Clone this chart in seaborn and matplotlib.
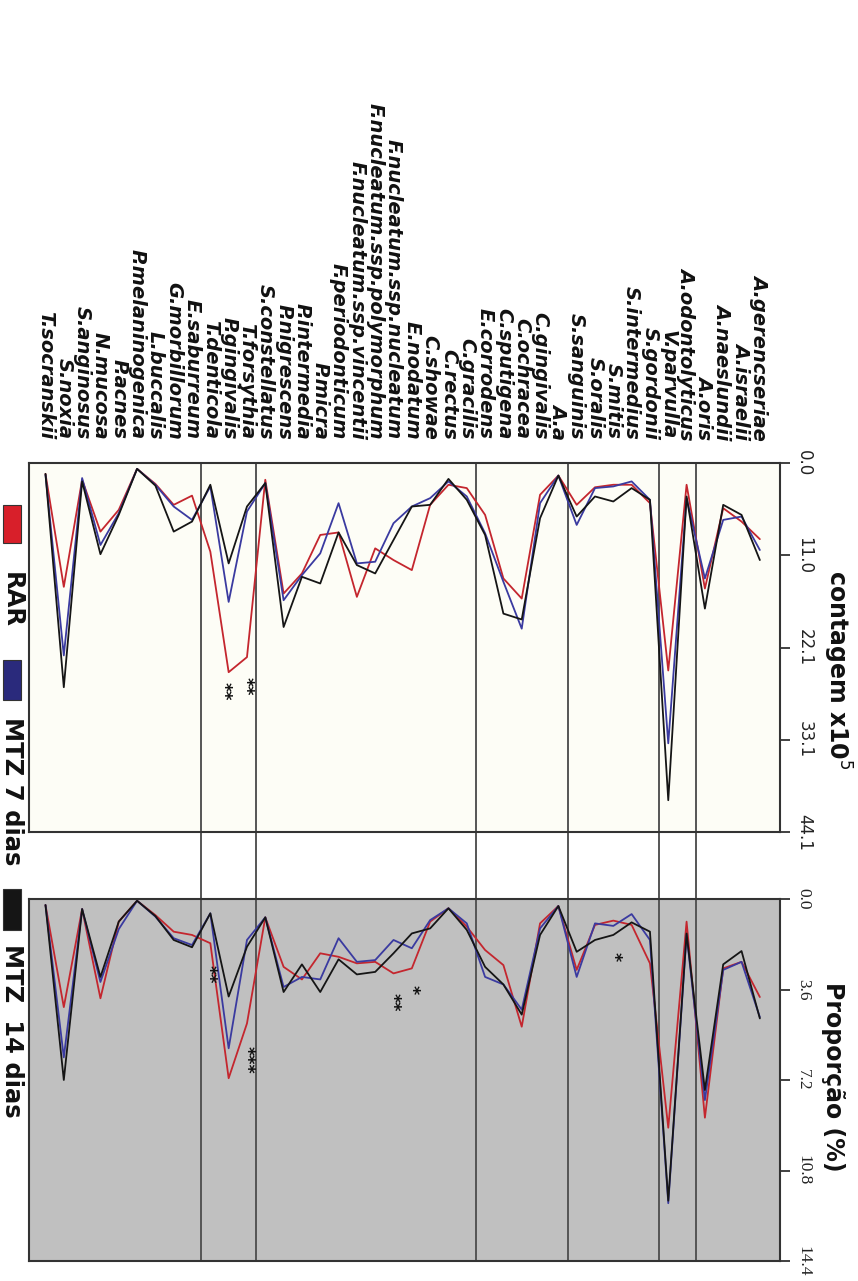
import pandas as pd
import seaborn as sns
import matplotlib.pyplot as plt
from matplotlib.patches import Rectangle

# species, left to right as they appear (rotated figure)
species = ["T.socranskii", "S.noxia", "S.anginosus", "N.mucosa", "P.acnes",
           "P.melaninogenica", "L.buccalis", "G.morbillorum", "E.saburreum",
           "T.denticola", "P.gingivalis", "T.forsythia", "S.constellatus",
           "P.nigrescens", "P.intermedia", "P.micra", "F.periodonticum",
           "F.nucleatum.ssp.vincentii", "F.nucleatum.ssp.polymorphum",
           "F.nucleatum.ssp.nucleatum", "E.nodatum", "C.showae", "C.rectus",
           "C.gracilis", "E.corrodens", "C.sputigena", "C.ochracea",
           "C.gingivalis", "A.a", "S.sanguinis", "S.oralis", "S.mitis",
           "S.intermedius", "S.gordonii", "V.parvulla", "A.odontolyticus",
           "A.oris", "A.naeslundii", "A.israelii", "A.gerencseriae"]

# contagem x10^5
count_rar = [1.3, 14.8, 2.0, 8.2, 5.6, 0.7, 2.5, 5.0, 3.9, 10.6, 25.0, 23.2, 2.0,
             15.6, 13.2, 8.6, 8.3, 16.0, 10.2, 11.6, 12.8, 5.0, 2.6, 3.0, 6.2,
             13.8, 16.2, 3.8, 1.5, 5.0, 2.9, 2.6, 2.6, 4.8, 24.8, 2.6, 15.0,
             5.4, 7.0, 9.1]
count_mtz7 = [1.4, 23.0, 1.8, 9.8, 6.0, 0.7, 2.6, 5.2, 6.8, 2.8, 16.6, 5.8, 2.4,
              16.4, 13.4, 10.8, 4.8, 12.0, 11.8, 7.2, 5.2, 4.2, 2.2, 4.0, 8.4,
              14.2, 19.8, 4.8, 1.5, 7.4, 3.0, 2.8, 2.2, 4.4, 33.5, 4.2, 13.8,
              6.8, 6.4, 10.4]
count_mtz14 = [1.3, 26.8, 2.2, 10.9, 6.2, 0.7, 2.7, 8.2, 7.0, 2.6, 12.0, 5.2, 2.4,
               19.6, 13.6, 14.4, 8.3, 12.2, 13.2, 9.2, 5.2, 5.0, 1.9, 4.4, 8.6,
               18.0, 18.7, 6.6, 1.5, 6.4, 4.0, 4.6, 3.0, 4.4, 40.3, 4.0, 17.4,
               5.0, 6.2, 11.6]

# proporcao (%)
prop_rar = [0.24, 4.3, 0.4, 3.95, 0.9, 0.07, 0.64, 1.3, 1.43, 1.76, 7.13, 4.95,
            0.73, 2.7, 3.2, 2.16, 2.3, 2.56, 2.5, 2.96, 2.76, 0.9, 0.37, 1.1,
            2.03, 2.63, 5.08, 0.97, 0.28, 2.82, 1.03, 0.86, 1.03, 2.56, 9.1,
            0.9, 8.7, 2.76, 2.5, 3.9]
prop_mtz7 = [0.24, 6.3, 0.4, 3.3, 1.2, 0.07, 0.7, 1.56, 1.83, 0.57, 5.94, 1.63,
             0.73, 3.5, 3.1, 3.2, 1.56, 2.5, 2.43, 1.63, 1.96, 0.84, 0.37, 0.97,
             3.1, 3.4, 4.4, 1.17, 0.28, 3.1, 0.97, 1.07, 0.6, 1.63, 12.1, 1.43,
             8.0, 2.82, 2.5, 4.7]
prop_mtz14 = [0.24, 7.2, 0.4, 3.1, 0.9, 0.07, 0.68, 1.63, 1.92, 0.57, 3.88, 1.9,
              0.73, 3.7, 2.6, 3.7, 2.4, 3.0, 2.9, 2.16, 1.37, 1.17, 0.37, 1.23,
              2.7, 3.4, 4.6, 1.43, 0.28, 2.1, 1.63, 1.43, 0.93, 1.3, 12.0, 1.37,
              7.6, 2.6, 2.07, 4.75]

groups = ["RAR", "MTZ 7 dias", "MTZ 14 dias"]
legend_text = ["RAR", "MTZ 7 dias", "MTZ  14 dias"]
colors = {"RAR": "#c4262e", "MTZ 7 dias": "#3a3aa0", "MTZ 14 dias": "#151515"}
swatch = {"RAR": "#d81f2a", "MTZ 7 dias": "#2a2a7c", "MTZ 14 dias": "#151515"}

count_ticks = [0.0, 11.0, 22.1, 33.1, 44.1]
prop_ticks = [0.0, 3.6, 7.2, 10.8, 14.4]

# complex separators: after these species
complex_ends = ["E.saburreum", "T.forsythia", "C.gracilis", "A.a", "S.gordonii", "A.odontolyticus"]

# significance marks: (panel, species position, value, text)
stars = [("count", 9.73, 27.3, "**"), ("count", 10.93, 26.7, "**"),
         ("prop", 8.92, 2.98, "**"), ("prop", 11.0, 6.4, "***"),
         ("prop", 18.97, 4.1, "**"), ("prop", 19.99, 3.6, "*"),
         ("prop", 31.0, 2.3, "*")]


def long_df(series):
    rows = []
    for g, vals in zip(groups, series):
        for i, v in enumerate(vals):
            rows.append({"pos": i, "valor": v, "grupo": g})
    return pd.DataFrame(rows)


def main():
    sns.set_theme(style="white")
    plt.rcParams['font.family'] = ['DejaVu Sans']

    W, H = 858, 1281
    fig = plt.figure(figsize=(W / 100, H / 100), dpi=100)
    fig.patch.set_facecolor("white")

    ax1 = fig.add_axes([29 / W, 1 - 832 / H, 751 / W, 369 / H])
    ax2 = fig.add_axes([29 / W, 1 - 1261 / H, 751 / W, 362 / H])

    df1 = long_df([count_rar, count_mtz7, count_mtz14])
    df2 = long_df([prop_rar, prop_mtz7, prop_mtz14])

    panels = [(ax1, df1, count_ticks, "#fdfdf6", "count"),
              (ax2, df2, prop_ticks, "#c0c0c0", "prop")]

    seps = [species.index(s) + 0.5 for s in complex_ends]

    for ax, df, ticks, bg, name in panels:
        ax.set_facecolor(bg)
        for s in seps:
            ax.axvline(s, color="#555555", lw=1.4, zorder=1)
        sns.lineplot(data=df, x="pos", y="valor", hue="grupo", hue_order=groups,
                     palette=colors, estimator=None, sort=False, linewidth=1.3,
                     legend=False, ax=ax, zorder=3)
        ax.set_xlim(-0.9, 40.1)
        ax.set_ylim(ticks[-1], ticks[0])
        ax.set_xlabel("")
        ax.set_ylabel("")
        for sp in ax.spines.values():
            sp.set_color("#333333")
            sp.set_linewidth(1.5)
        ax.yaxis.tick_right()
        ax.set_yticks(ticks)
        ax.tick_params(axis="y", which="major", direction="out", length=7,
                       width=1.3, color="#333333", pad=4, right=True, left=False)
        for st in stars:
            if st[0] == name:
                ax.text(st[1], st[2], st[3], rotation=270, ha="center", va="center",
                        fontsize=12.5, fontweight="bold", color="#111111", zorder=4)

    # gap segments of the separators
    gap = (899 - 832) / 369
    for s in seps:
        ax1.axvline(s, ymin=-gap, ymax=0, color="#555555", lw=1.4, clip_on=False)

    ax1.set_yticklabels([f"{t:.1f}" for t in count_ticks], rotation=270,
                        va="center", fontsize=12, color="#222222")
    ax2.set_yticklabels([f"{t:.1f}" for t in prop_ticks], rotation=270,
                        va="center", fontsize=12.5, color="#222222",
                        family="Liberation Serif")

    ax1.xaxis.tick_top()
    ax1.set_xticks(range(len(species)))
    ax1.set_xticklabels(species, rotation=270, fontsize=14, fontweight="bold",
                        fontstyle="italic", color="#111111")
    ax1.tick_params(axis="x", length=0, pad=17, top=True, bottom=False)
    ax2.set_xticks([])

    ax1.text(1.054, 0.44, "contagem x10$^5$", transform=ax1.transAxes,
             rotation=270, ha="left", va="center", fontsize=17,
             fontweight="bold", color="#111111")
    ax2.text(1.054, 0.51, "Proporção (%)", transform=ax2.transAxes,
             rotation=270, ha="left", va="center", fontsize=17,
             fontweight="bold", color="#111111")

    # legend drawn by hand, rotated like the rest of the figure
    leg_boxes = [(505, 543, 600), (660, 700, 791), (889, 930, 1031)]
    for g, txt, (y0, y1, yt) in zip(groups, legend_text, leg_boxes):
        fig.patches.append(Rectangle((3 / W, 1 - y1 / H), 18 / W, (y1 - y0) / H,
                                     transform=fig.transFigure,
                                     facecolor=swatch[g], edgecolor="#333333",
                                     lw=0.8))
        fig.text(12 / W, 1 - yt / H, txt, rotation=270, ha="center", va="center",
                 fontsize=17.5, fontweight="bold", color="#111111")

    fig.savefig("out.png", dpi=100)


if __name__ == "__main__":
    main()
